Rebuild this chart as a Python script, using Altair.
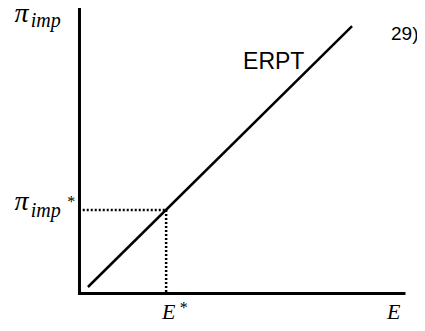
import altair as alt
import pandas as pd

# ---- data ----
line_E = [0.26, 8.40]          # ERPT line endpoints (E)
line_pi = [0.226, 9.30]        # ERPT line endpoints (pi_imp)
E_star = 2.67
pi_star = 2.90
axis_len = 10.0

# labels: text, E, pi, kind
lab_text = ["π", "imp", "π", "imp", "*", "E", "*", "E", "ERPT", "29)"]
lab_E = [-2.00, -1.50, -2.00, -1.50, -0.38, 2.54, 3.09, 9.48, 5.04, 9.60]
lab_pi = [9.46, 9.27, 2.89, 2.66, 3.00, -0.89, -0.68, -0.89, 7.81, 8.82]
lab_kind = ["pi", "sub", "pi", "sub", "star", "E", "star", "E", "sans", "sans2"]

W, H = 409, 315
xs = alt.Scale(domain=[-2.203, 10.401], range=[0, W], nice=False, zero=False)
ys = alt.Scale(domain=[-1.026, 9.930], range=[H, 0], nice=False, zero=False)

axes_df = pd.DataFrame({
    "x": [0.0, 0.0], "x2": [0.0, axis_len],
    "y": [0.0, 0.0], "y2": [axis_len, 0.0],
})
axes = alt.Chart(axes_df).mark_rule(color="black", strokeWidth=3, strokeCap="square").encode(
    x=alt.X("x:Q", scale=xs, axis=None), x2="x2:Q",
    y=alt.Y("y:Q", scale=ys, axis=None), y2="y2:Q",
)

line_df = pd.DataFrame({"E": line_E, "pi": line_pi})
erpt = alt.Chart(line_df).mark_line(color="black", strokeWidth=2.5).encode(
    x=alt.X("E:Q", scale=xs, axis=None), y=alt.Y("pi:Q", scale=ys, axis=None)
)

dot_df = pd.DataFrame({
    "x": [0.1, E_star], "x2": [E_star, E_star],
    "y": [pi_star, pi_star], "y2": [pi_star, 0.0],
})
dots = alt.Chart(dot_df).mark_rule(color="black", strokeWidth=2.5, strokeDash=[2, 2]).encode(
    x=alt.X("x:Q", scale=xs, axis=None), x2="x2:Q",
    y=alt.Y("y:Q", scale=ys, axis=None), y2="y2:Q",
)

lab_df = pd.DataFrame({"t": lab_text, "E": lab_E, "pi": lab_pi, "k": lab_kind})

def labels(kind, font, size, style="normal"):
    return alt.Chart(lab_df).transform_filter(alt.datum.k == kind).mark_text(
        align="left", baseline="alphabetic", font=font, fontSize=size,
        fontStyle=style, color="black"
    ).encode(
        x=alt.X("E:Q", scale=xs, axis=None), y=alt.Y("pi:Q", scale=ys, axis=None),
        text="t:N",
    )

layers = [
    axes, erpt, dots,
    labels("pi", "Liberation Serif", 28, "italic"),
    labels("sub", "Liberation Serif", 20, "italic"),
    labels("star", "Liberation Serif", 16),
    labels("E", "Liberation Serif", 22, "italic"),
    labels("sans", "Liberation Sans", 23),
    labels("sans2", "Liberation Sans", 19),
]

chart = alt.layer(*layers).properties(
    width=W, height=H, padding=0, autosize=alt.AutoSizeParams(type="none"),
).configure_view(stroke=None)

chart.save("out.html", embed_options={"renderer": "svg", "actions": False})
